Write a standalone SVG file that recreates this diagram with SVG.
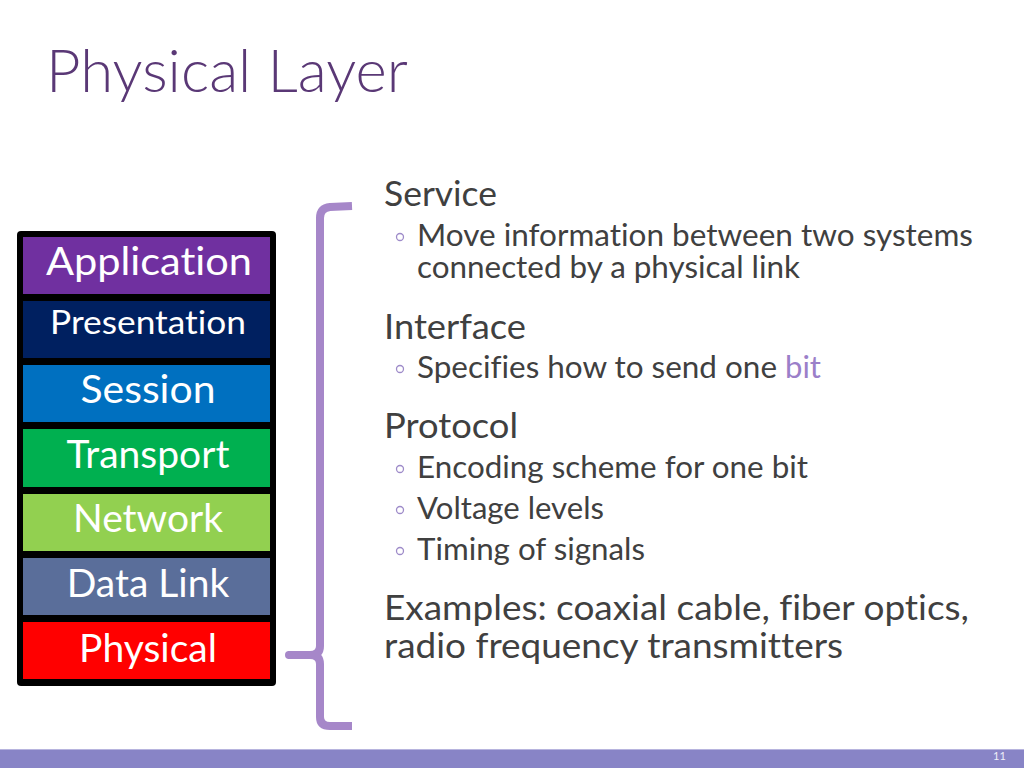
<svg xmlns="http://www.w3.org/2000/svg" width="1024" height="768" viewBox="0 0 1024 768">
<style>
text{font-variant-ligatures:none}
.lay{font-family:Lato,"Open Sans","Liberation Sans",sans-serif;fill:#fff;text-anchor:middle}
.h1{font-family:Lato,"Open Sans","Liberation Sans",sans-serif;font-size:35px;fill:#404040}
.h2{font-family:Lato,"Open Sans","Liberation Sans",sans-serif;font-size:30px;fill:#404040}
.bul{fill:none;stroke:#9E8BC9;stroke-width:1.3}
</style>
<rect width="1024" height="768" fill="#fff"/>
<text x="46" y="92" font-family="Lato,'Open Sans','Liberation Sans',sans-serif" font-weight="300" font-size="59" fill="#5A3876" textLength="362" lengthAdjust="spacingAndGlyphs">Physical Layer</text>

<g id="stack">
<rect x="17" y="231" width="259" height="455" rx="4" fill="#000"/>
<g id="application"><rect x="23" y="237" width="247" height="57" fill="#7030A0"/><text class="lay" x="149" y="275" font-size="39" textLength="206" lengthAdjust="spacingAndGlyphs">Application</text></g>
<g id="presentation"><rect x="23" y="301" width="247" height="57" fill="#002060"/><text class="lay" x="148" y="334" font-size="33" textLength="196" lengthAdjust="spacingAndGlyphs">Presentation</text></g>
<g id="session"><rect x="23" y="365" width="247" height="57" fill="#0070C0"/><text class="lay" x="148" y="403" font-size="39" textLength="135" lengthAdjust="spacingAndGlyphs">Session</text></g>
<g id="transport"><rect x="23" y="429" width="247" height="58" fill="#00B050"/><text class="lay" x="148" y="468" font-size="39">Transport</text></g>
<g id="network"><rect x="23" y="494" width="247" height="57" fill="#92D050"/><text class="lay" x="148" y="532" font-size="39">Network</text></g>
<g id="datalink"><rect x="23" y="558" width="247" height="57" fill="#5A6E9A"/><text class="lay" x="148" y="597" font-size="39">Data Link</text></g>
<g id="physical"><rect x="23" y="622" width="247" height="57" fill="#FF0000"/><text class="lay" x="148" y="662" font-size="39">Physical</text></g>
</g>

<g id="connectors">
<path d="M352,206 L330,207 Q320,208 320,218 L320,646 Q320,655 310,655 L288,655 M310,655 Q320,655 320,664 L320,717 Q320,726 330,726 L352,726" fill="none" stroke="#A687C9" stroke-width="8" stroke-linecap="butt" stroke-linejoin="round"/>
<circle cx="289" cy="655" r="4" fill="#A687C9"/>
</g>

<g id="text">
<text class="h1" x="384" y="206" textLength="113" lengthAdjust="spacingAndGlyphs">Service</text>
<circle class="bul" cx="400" cy="237" r="3.5"/>
<text class="h2" x="417" y="246" textLength="556" lengthAdjust="spacingAndGlyphs">Move information between two systems</text>
<text class="h2" x="417" y="278" textLength="383" lengthAdjust="spacingAndGlyphs">connected by a physical link</text>
<text class="h1" x="384" y="339" textLength="142" lengthAdjust="spacingAndGlyphs">Interface</text>
<circle class="bul" cx="400" cy="369" r="3.5"/>
<text class="h2" x="417" y="378" textLength="360" lengthAdjust="spacingAndGlyphs">Specifies how to send one</text>
<text class="h2" x="785" y="378" style="fill:#9B7FC9" textLength="36" lengthAdjust="spacingAndGlyphs">bit</text>
<text class="h1" x="384" y="438" textLength="134" lengthAdjust="spacingAndGlyphs">Protocol</text>
<circle class="bul" cx="400" cy="469" r="3.5"/>
<text class="h2" x="417" y="478" textLength="391" lengthAdjust="spacingAndGlyphs">Encoding scheme for one bit</text>
<circle class="bul" cx="400" cy="510" r="3.5"/>
<text class="h2" x="417" y="519" textLength="187" lengthAdjust="spacingAndGlyphs">Voltage levels</text>
<circle class="bul" cx="400" cy="551" r="3.5"/>
<text class="h2" x="417" y="560" textLength="228" lengthAdjust="spacingAndGlyphs">Timing of signals</text>
<text class="h1" x="384" y="620" textLength="585" lengthAdjust="spacingAndGlyphs">Examples: coaxial cable, fiber optics,</text>
<text class="h1" x="384" y="658" textLength="459" lengthAdjust="spacingAndGlyphs">radio frequency transmitters</text>
</g>

<rect x="0" y="749" width="1024" height="19" fill="#8884C6"/>
<rect x="0" y="749" width="1024" height="1" fill="#B7B4DE"/>
<text x="993" y="760" font-family="Lato,'Liberation Sans',sans-serif" font-size="11" fill="#EEEEF8">11</text>
</svg>
